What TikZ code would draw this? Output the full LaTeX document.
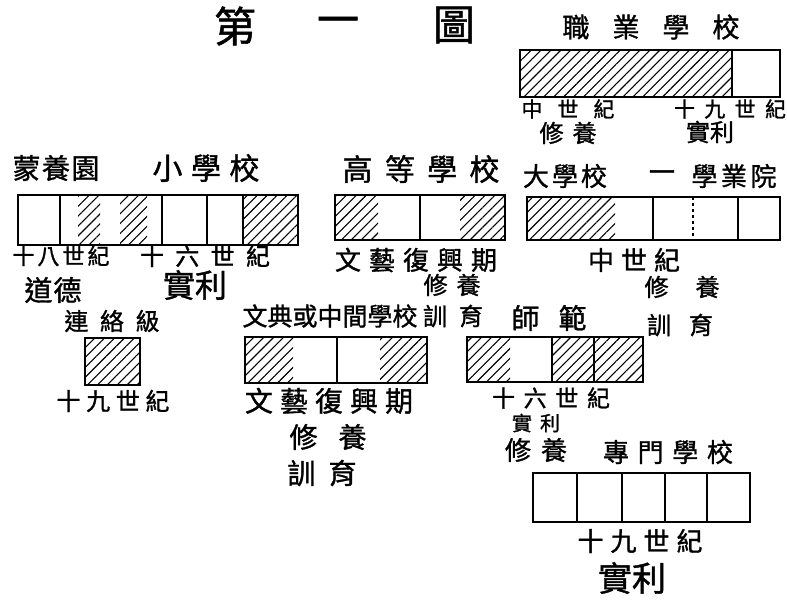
\documentclass[tikz,border=0pt]{standalone}
\usepackage{fontspec}
\setmainfont{Noto Sans CJK TC}[FakeBold=1.2]
\usetikzlibrary{patterns.meta}
\tikzset{
  lab/.style={inner sep=0pt, font=\fontsize{#1}{#1}\selectfont},
  boxline/.style={draw, line width=2.6pt},
  divline/.style={draw, line width=1.8pt},
  hatch/.style={pattern={Lines[angle=45,distance=7pt,line width=1.1pt]}}
}
\newcommand\spr[2]{\makebox[#1pt]{#2}}
\begin{document}
\begin{tikzpicture}[x=1pt,y=-1pt]
\useasboundingbox (0,0) rectangle (787,611);
\fill[white] (0,0) rectangle (787,611);

% title
\node[lab=42pt] (t1) at (235,26) {第};
\node[lab=42pt] (t2) at (338,26) {一};
\node[lab=42pt] (t3) at (454,25) {圖};

% ---- 職業學校 ----
\node[lab=27pt] (zy) at (651,27) {\spr{177}{職\hfill 業\hfill 學\hfill 校}};
\fill[hatch] (520,50) rectangle (732,97);
\draw[divline] (732,50) -- (732,97);
\draw[boxline] (520,50) rectangle (780,97);
\node[lab=21pt] (zya) at (568,109) {\spr{93}{中\hfill 世\hfill 紀}};
\node[lab=21pt] (zyb) at (730,109) {\spr{112}{十\hfill 九\hfill 世\hfill 紀}};
\node[lab=24pt] (zyc) at (568,133) {\spr{57}{修\hfill 養}};
\node[lab=24pt] (zyd) at (710,132) {\spr{46}{實\hfill 利}};

% ---- row 1: 蒙養園 小學校 ----
\node[lab=28pt] (my) at (56,168) {\spr{87}{蒙\hfill 養\hfill 園}};
\node[lab=30pt] (xx) at (206,168) {\spr{107}{小\hfill 學\hfill 校}};
\fill[hatch] (78,195) rectangle (100,245);
\fill[hatch] (120,195) rectangle (147,245);
\fill[hatch] (243,195) rectangle (298,245);
\draw[divline] (60,195) -- (60,245);
\draw[divline] (162,195) -- (162,245);
\draw[divline] (207,195) -- (207,245);
\draw[divline] (243,195) -- (243,245);
\draw[boxline] (18,195) rectangle (298,245);
\node[lab=22pt] (my1) at (61,256) {\spr{97}{十\hfill 八\hfill 世\hfill 紀}};
\node[lab=24pt] (xx1) at (205,256) {\spr{130}{十\hfill 六\hfill 世\hfill 紀}};
\node[lab=28pt] (my2) at (53,290) {\spr{57}{道\hfill 德}};
\node[lab=32pt] (xx2) at (195,285) {\spr{64}{實\hfill 利}};

% ---- 高等學校 ----
\node[lab=30pt] (gd) at (421,169) {\spr{157}{高\hfill 等\hfill 學\hfill 校}};
\fill[hatch] (335,195) rectangle (378,240);
\fill[hatch] (460,195) rectangle (505,240);
\draw[divline] (420,195) -- (420,240);
\draw[boxline] (335,195) rectangle (505,240);
\node[lab=26pt] (gd1) at (416,260) {\spr{162}{文\hfill 藝\hfill 復\hfill 興\hfill 期}};
\node[lab=24pt] (gd2) at (452,285) {\spr{57}{修\hfill 養}};
\node[lab=24pt] (gd3) at (453,316) {\spr{60}{訓\hfill 育}};

% ---- 大學校 ----
\node[lab=26pt] (dx) at (565,176) {\spr{84}{大\hfill 學\hfill 校}};
\node[lab=26pt] (dxl) at (662,176) {一};
\node[lab=26pt] (dxr) at (734,176) {\spr{85}{學\hfill 業\hfill 院}};
\fill[hatch] (527,197) rectangle (615,240);
\draw[divline] (653,197) -- (653,240);
\draw[divline, dashed] (693,197) -- (693,240);
\draw[divline] (738,197) -- (738,240);
\draw[boxline] (527,197) rectangle (780,240);
\node[lab=26pt] (dx1) at (634,260) {\spr{92}{中\hfill 世\hfill 紀}};
\node[lab=24pt] (dx2) at (682,287) {\spr{75}{修\hfill 養}};
\node[lab=24pt] (dx3) at (680,325) {\spr{66}{訓\hfill 育}};

% ---- 連絡級 ----
\node[lab=24pt] (ll) at (112,321) {\spr{95}{連\hfill 絡\hfill 級}};
\fill[hatch] (85,338) rectangle (140,385);
\draw[boxline] (85,338) rectangle (140,385);
\node[lab=24pt] (ll1) at (113,401) {\spr{113}{十\hfill 九\hfill 世\hfill 紀}};

% ---- 文典或中間學校 ----
\node[lab=25pt] (wd) at (330,316) {\spr{174}{文\hfill 典\hfill 或\hfill 中\hfill 間\hfill 學\hfill 校}};
\fill[hatch] (245,337) rectangle (293,383);
\fill[hatch] (380,337) rectangle (427,383);
\draw[divline] (337,337) -- (337,383);
\draw[boxline] (245,337) rectangle (427,383);
\node[lab=28pt] (wd1) at (329,401) {\spr{168}{文\hfill 藝\hfill 復\hfill 興\hfill 期}};
\node[lab=28pt] (wd2) at (328,437) {\spr{77}{修\hfill 養}};
\node[lab=28pt] (wd3) at (322,473) {\spr{69}{訓\hfill 育}};

% ---- 師範 ----
\node[lab=28pt] (sf) at (549,318) {\spr{75}{師\hfill 範}};
\fill[hatch] (467,337) rectangle (510,382);
\fill[hatch] (552,337) rectangle (643,382);
\draw[divline] (552,337) -- (552,382);
\draw[divline] (594,337) -- (594,382);
\draw[boxline] (467,337) rectangle (643,382);
\node[lab=23pt] (sf1) at (551,398) {\spr{118}{十\hfill 六\hfill 世\hfill 紀}};
\node[lab=20pt] (sf2) at (536,423) {\spr{48}{實\hfill 利}};
\node[lab=26pt] (sf3) at (536,450) {\spr{62}{修\hfill 養}};

% ---- 專門學校 ----
\node[lab=26pt] (zm) at (668,452) {\spr{130}{專\hfill 門\hfill 學\hfill 校}};
\draw[divline] (577,473) -- (577,522);
\draw[divline] (622,473) -- (622,522);
\draw[divline] (665,473) -- (665,522);
\draw[divline] (707,473) -- (707,522);
\draw[boxline] (533,473) rectangle (750,522);
\node[lab=26pt] (zm1) at (640,541) {\spr{125}{十\hfill 九\hfill 世\hfill 紀}};
\node[lab=34pt] (zm2) at (632,578) {\spr{50}{實\hfill 利}};
\end{tikzpicture}
\end{document}
